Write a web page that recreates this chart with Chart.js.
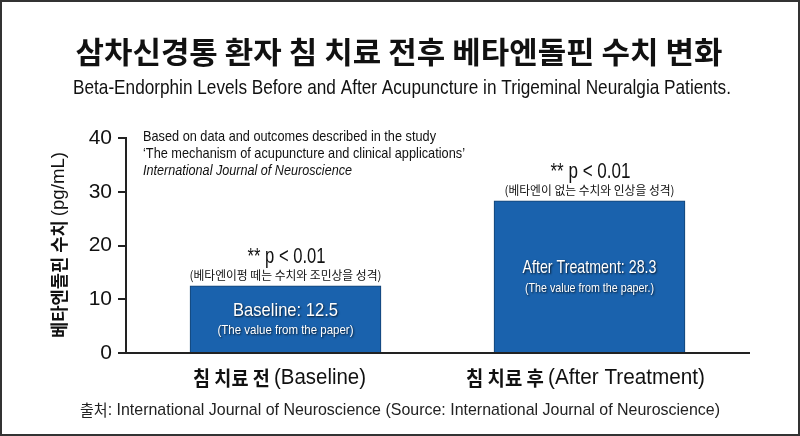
<!DOCTYPE html>
<html>
<head>
<meta charset="utf-8">
<script src="https://cdn.jsdelivr.net/npm/chart.js@4/dist/chart.umd.min.js"></script>
<style>
  html, body { margin: 0; padding: 0; background: #fff; }
  #wrap { width: 800px; height: 436px; }
</style>
</head>
<body>
<div id="wrap"><canvas id="endorphinChart" width="800" height="436"></canvas></div>
<script>
var categoriesKo = ['침 치료 전', '침 치료 후'];
var categoriesEn = ['(Baseline)', '(After Treatment)'];
var values = [12.5, 28.3];
var valueLabels = ['Baseline: 12.5', 'After Treatment: 28.3'];
var valueNotes = ['(The value from the paper)', '(The value from the paper.)'];
var sigLabels = ['** p < 0.01', '** p < 0.01'];
var sigNotes = ['(베타엔이펑 떼는 수치와 조민상을 성격)', '(베타엔이 없는 수치와 인상을 성격)'];
var yTicks = [0, 10, 20, 30, 40];

var NARROW = "'Liberation Sans Narrow', 'Liberation Sans', Arial, sans-serif";
var KR = "'Noto Sans CJK KR', 'Noto Sans', sans-serif";

// draw a run of [text, font] pieces, stretched to a given total width
function drawRuns(ctx, runs, cx, cy, width, color) {
  var total = 0;
  runs.forEach(function (r) { ctx.font = r[1]; total += ctx.measureText(r[0]).width; });
  var sx = width ? width / total : 1;
  ctx.save();
  ctx.translate(cx - (total * sx) / 2, cy);
  ctx.scale(sx, 1);
  ctx.fillStyle = color || '#111';
  ctx.textBaseline = 'middle';
  ctx.textAlign = 'left';
  var x = 0;
  runs.forEach(function (r) {
    ctx.font = r[1];
    ctx.fillText(r[0], x, 0);
    x += ctx.measureText(r[0]).width;
  });
  ctx.restore();
}

var overlay = {
  id: 'overlay',
  afterDraw: function (chart) {
    var ctx = chart.ctx;
    var xs = chart.scales.x, ys = chart.scales.y;

    // frame
    ctx.save();
    ctx.strokeStyle = '#333';
    ctx.lineWidth = 2;
    ctx.strokeRect(1, 1, 798, 434);
    ctx.restore();

    // titles
    drawRuns(ctx, [['삼차신경통 환자 침 치료 전후 베타엔돌핀 수치 변화', 'bold 30px ' + KR]], 399, 52, 647, '#111');
    drawRuns(ctx, [['Beta-Endorphin Levels Before and After Acupuncture in Trigeminal Neuralgia Patients.', '21px ' + NARROW]], 402, 88, 658, '#111');

    // study note, top left
    var notes = [
      ['Based on data and outcomes described in the study', '15px ' + NARROW, 293, 137],
      ['\u2018The mechanism of acupuncture and clinical applications\u2019', '15px ' + NARROW, 322, 154],
      ['International Journal of Neuroscience', 'italic 15px ' + NARROW, 209, 171]
    ];
    notes.forEach(function (n) { drawRuns(ctx, [[n[0], n[1]]], 143 + n[2] / 2, n[3], n[2], '#111'); });

    // y axis title
    ctx.save();
    ctx.translate(59, 245);
    ctx.rotate(-Math.PI / 2);
    drawRuns(ctx, [['베타엔돌핀 수치 ', 'bold 18px ' + KR], ['(pg/mL)', '19px ' + NARROW]], 0, 0, 186, '#111');
    ctx.restore();

    // bar annotations and category labels
    var sigW = [78, 80], sigNoteW = [192, 170], lblW = [105, 134], noteW = [136, 129];
    var catW = [173, 239];
    values.forEach(function (v, i) {
      var cx = xs.getPixelForValue(i);
      var top = ys.getPixelForValue(v);
      var base = ys.getPixelForValue(0);
      drawRuns(ctx, [[sigLabels[i], '22px ' + NARROW]], cx + 1, top - 29, sigW[i], '#111');
      drawRuns(ctx, [[sigNotes[i], '12px ' + KR]], cx, top - 10, sigNoteW[i], '#111');

      var mid = (top + base) / 2 + 1;
      ctx.save();
      ctx.shadowColor = 'rgba(0,0,0,0.75)';
      ctx.shadowBlur = 2;
      ctx.shadowOffsetX = 1;
      ctx.shadowOffsetY = 1;
      drawRuns(ctx, [[valueLabels[i], '19px ' + NARROW]], cx, mid - 10, lblW[i], '#fff');
      drawRuns(ctx, [[valueNotes[i], '13px ' + NARROW]], cx, mid + 10, noteW[i], '#fff');
      ctx.restore();

      drawRuns(ctx, [[categoriesKo[i] + ' ', 'bold 20px ' + KR], [categoriesEn[i], '22px ' + NARROW]], cx - 6 + i * 2, 378, catW[i], '#111');
    });

    // source line
    drawRuns(ctx, [['출처', '16px ' + KR], [': International Journal of Neuroscience (Source: International Journal of Neuroscience)', '17px ' + NARROW]], 400, 410, 640, '#222');
  }
};

var barChart = new Chart(document.getElementById('endorphinChart'), {
  type: 'bar',
  data: {
    datasets: [{
      label: 'Beta-Endorphin',
      data: values.map(function (v, i) { return { x: i, y: v }; }),
      backgroundColor: '#1a62ad',
      borderColor: '#12406f',
      borderWidth: 1,
      barThickness: 191
    }]
  },
  options: {
    responsive: false,
    animation: false,
    devicePixelRatio: 1,
    layout: {
      padding: { top: 138, right: 51, left: 0, bottom: 0 }
    },
    plugins: {
      legend: { display: false },
      tooltip: { enabled: false }
    },
    scales: {
      x: {
        type: 'linear',
        offset: false,
        min: -0.5247,
        max: 1.5247,
        grid: { display: false },
        border: { display: true, color: '#222', width: 2 },
        ticks: { display: false },
        afterFit: function (scale) { scale.height = 83; }
      },
      y: {
        min: yTicks[0],
        max: yTicks[yTicks.length - 1],
        afterBuildTicks: function (scale) {
          scale.ticks = yTicks.map(function (v) { return { value: v }; });
        },
        grid: {
          drawOnChartArea: false,
          drawTicks: true,
          tickLength: 8,
          lineWidth: 2,
          color: '#222'
        },
        border: { display: true, color: '#222', width: 2 },
        ticks: {
          padding: 6,
          color: '#111',
          font: { family: "'Liberation Sans', Arial, sans-serif", size: 21 }
        },
        afterFit: function (scale) { scale.width = 126; }
      }
    }
  },
  plugins: [overlay]
});
</script>
</body>
</html>
